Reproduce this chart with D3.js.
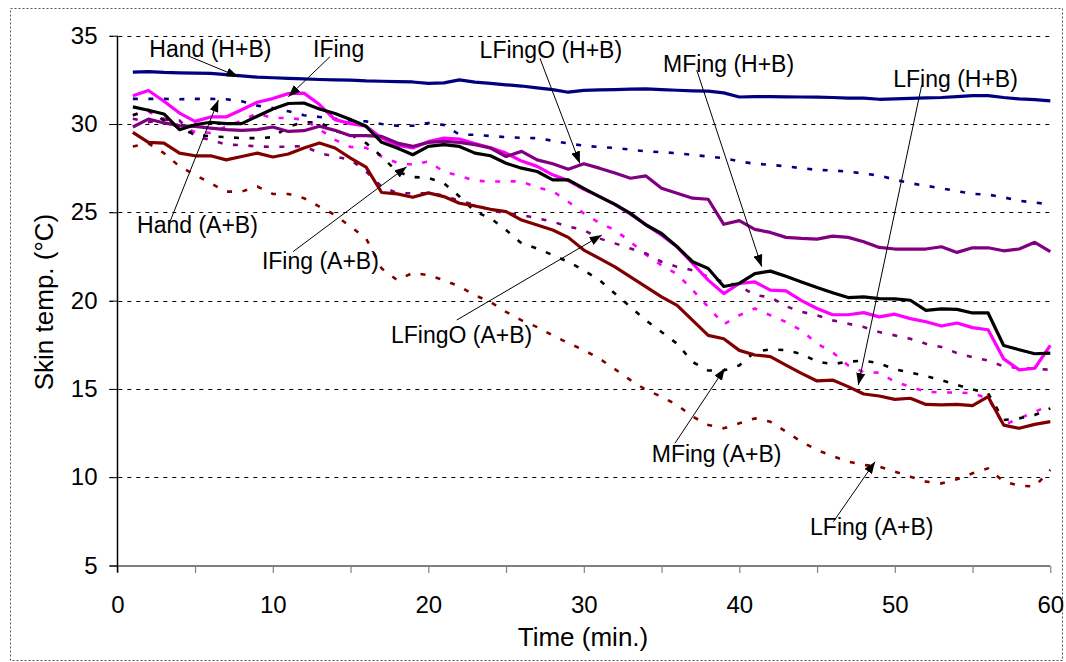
<!DOCTYPE html>
<html>
<head>
<meta charset="utf-8">
<script src="https://cdn.jsdelivr.net/npm/d3@7"></script>
<style>
  html, body { margin: 0; padding: 0; background: #fff; }
  svg { display: block; font-family: "Liberation Sans", Arial, sans-serif; }
</style>
</head>
<body>
<svg id="chart" width="1066" height="662"></svg>
<script>
// minutes 1..60, skin temperature (°C) per site and condition
const MINUTES = [1,2,3,4,5,6,7,8,9,10,11,12,13,14,15,16,17,18,19,20,
  21,22,23,24,25,26,27,28,29,30,31,32,33,34,35,36,37,38,39,40,
  41,42,43,44,45,46,47,48,49,50,51,52,53,54,55,56,57,58,59,60];

const HAND_HB = [32.94,32.97,32.92,32.9,32.88,32.87,32.8,32.72,32.65,32.62,32.58,32.55,32.52,32.5,32.48,32.44,32.42,32.4,32.38,32.3,
  32.33,32.5,32.37,32.3,32.22,32.15,32.05,31.95,31.8,31.9,31.93,31.95,31.97,31.99,31.95,31.91,31.88,31.86,31.76,31.53,
  31.55,31.55,31.54,31.53,31.52,31.5,31.47,31.47,31.4,31.42,31.45,31.48,31.5,31.55,31.61,31.61,31.5,31.42,31.38,31.31];
const HAND_AB = [31.42,31.42,31.42,31.4,31.42,31.42,31.4,31.29,31.04,30.9,30.72,30.5,30.4,30.3,30.2,30.15,30.0,29.9,29.9,30.06,
  29.95,29.4,29.39,29.32,29.26,29.22,29.2,29.05,28.9,28.77,28.7,28.64,28.55,28.45,28.4,28.35,28.25,28.16,28.07,27.88,
  27.75,27.69,27.6,27.5,27.4,27.37,27.3,27.2,27.08,26.85,26.65,26.5,26.36,26.2,26.04,26.0,25.85,25.65,25.55,25.45];
const IFING_HB = [31.6,31.9,31.29,30.62,30.15,30.4,30.4,30.81,31.23,31.44,31.72,31.75,31.1,30.25,30.02,29.87,29.2,28.8,28.64,29.0,
  29.2,29.15,28.9,28.65,28.35,27.9,27.6,27.12,26.8,26.3,25.9,25.45,24.9,24.3,23.7,23.05,22.1,21.16,20.4,20.97,
  21.06,20.59,20.55,20.0,19.55,19.2,19.2,19.32,19.08,19.23,18.98,18.8,18.56,18.73,18.47,18.35,16.7,16.08,16.17,17.46];
const IFING_AB = [30.5,30.7,30.3,29.9,29.55,29.5,29.85,30.2,30.6,30.34,30.34,30.25,29.7,29.1,28.7,28.65,28.16,27.8,27.7,27.88,
  27.3,27.06,26.8,26.74,26.75,26.75,26.4,26.2,25.6,24.94,24.4,24.0,23.33,22.6,22.0,21.5,20.6,19.64,18.66,19.17,
  19.55,19.17,18.79,18.31,17.56,17.08,16.33,15.95,15.92,15.4,15.13,14.84,14.8,14.8,14.75,14.46,12.95,13.33,13.7,14.08];
const LFINGO_HB = [29.83,30.28,30.06,29.9,29.87,29.77,29.68,29.64,29.68,29.83,29.58,29.62,29.87,29.64,29.34,29.34,29.3,28.92,28.73,28.96,
  29.02,28.96,28.83,28.64,28.16,28.45,27.97,27.75,27.44,27.75,27.5,27.22,26.93,27.06,26.36,26.08,25.8,25.74,24.32,24.53,
  24.03,23.86,23.58,23.52,23.48,23.65,23.58,23.33,23.01,22.92,22.92,22.92,23.05,22.73,22.99,22.99,22.82,22.92,23.3,22.77];
const LFINGO_AB = [30.3,30.1,30.25,30.2,29.3,29.1,28.83,28.8,28.73,28.7,28.72,28.75,28.35,28.16,27.97,27.3,26.46,26.08,26.08,26.08,
  25.95,25.65,25.42,25.13,24.94,24.85,24.66,24.47,24.19,24.0,23.52,23.24,22.95,22.67,22.2,21.91,21.72,21.35,21.05,20.85,
  20.3,20.2,19.68,19.36,19.17,18.88,18.69,18.5,18.22,18.03,17.84,17.56,17.37,17.03,16.8,16.61,16.27,16.19,16.14,16.08];
const MFING_HB = [30.97,30.78,30.57,29.68,29.96,30.1,30.02,30.02,30.44,30.85,31.16,31.19,30.85,30.59,30.25,29.87,28.96,28.64,28.26,28.73,
  28.83,28.73,28.35,28.2,27.78,27.5,27.31,26.84,26.84,26.36,25.89,25.45,24.94,24.28,23.8,23.05,22.2,21.82,20.8,20.97,
  21.53,21.67,21.38,21.06,20.74,20.45,20.17,20.21,20.11,20.1,20.02,19.45,19.53,19.5,19.3,19.3,17.46,17.22,16.99,17.03];
const MFING_AB = [30.5,30.8,30.2,29.77,29.4,29.3,29.26,29.2,29.2,29.25,29.85,30.1,30.1,29.6,29.4,28.92,28.16,27.3,27.0,26.95,
  26.65,25.9,25.04,24.66,24.0,23.24,22.95,22.58,22.2,21.72,21.16,20.4,19.64,18.88,18.22,17.56,16.52,16.04,16.04,16.33,
  17.1,17.24,17.2,16.98,16.54,16.4,16.54,16.6,16.45,16.11,15.92,15.73,15.5,15.22,14.97,14.75,13.24,13.33,13.52,13.9];
const LFING_HB = [29.53,28.96,28.92,28.35,28.2,28.2,27.97,28.16,28.35,28.13,28.3,28.64,28.92,28.64,28.07,27.56,26.12,26.04,25.85,26.1,
  25.89,25.51,25.36,25.17,25.04,24.56,24.28,24.0,23.58,22.86,22.39,21.91,21.34,20.78,20.21,19.73,18.88,18.03,17.84,17.18,
  16.92,16.83,16.35,15.88,15.45,15.5,15.13,14.71,14.6,14.41,14.47,14.12,14.09,14.12,14.05,14.56,12.95,12.77,12.99,13.15];
const LFING_AB = [28.73,28.9,28.35,27.6,27.12,26.65,26.17,26.17,26.46,26.04,26.04,25.8,25.32,24.85,24.19,23.52,21.82,21.16,21.57,21.44,
  21.16,20.8,20.3,19.92,19.36,18.88,18.5,18.03,17.6,17.2,16.72,16.12,15.5,14.94,14.56,14.09,13.43,12.96,12.77,13.05,
  13.33,13.14,12.58,12.01,11.54,11.2,10.88,10.69,10.6,10.31,10.03,9.75,9.65,9.88,10.22,10.5,9.75,9.52,9.47,10.41];

const X_TICKS = [0,5,10,15,20,25,30,35,40,45,50,55,60];
const Y_TICKS = [5,10,15,20,25,30,35];
const X_TITLE = 'Time (min.)', Y_TITLE = 'Skin temp. (°C)';

// series, in drawing order
const SERIES = [
  { values: HAND_AB,   color: '#000080', dashed: true },
  { values: IFING_AB,  color: '#ff00ff', dashed: true },
  { values: LFINGO_AB, color: '#800080', dashed: true },
  { values: MFING_AB,  color: '#000000', dashed: true },
  { values: LFING_AB,  color: '#800000', dashed: true },
  { values: HAND_HB,   color: '#000080', dashed: false },
  { values: IFING_HB,  color: '#ff00ff', dashed: false },
  { values: LFINGO_HB, color: '#800080', dashed: false },
  { values: LFING_HB,  color: '#800000', dashed: false },
  { values: MFING_HB,  color: '#000000', dashed: false },
];

// callouts: text anchor, leader start and arrow tip, all in (minute, °C)
const CALLOUTS = [
  { text: 'Hand (H+B)',   at: [2.06, 33.81],  from: [4.68, 33.81],  to: [7.78, 32.68] },
  { text: 'IFing',        at: [12.59, 33.81], from: [13.68, 33.81], to: [11.0, 31.55] },
  { text: 'Hand (A+B)',   at: [1.27, 23.85],  from: [3.39, 24.47],  to: [6.5, 31.36] },
  { text: 'IFing (A+B)',  at: [9.3, 21.79],   from: [11.3, 22.77],  to: [18.61, 27.58] },
  { text: 'LFingO (H+B)', at: [23.3, 33.75],  from: [27.18, 33.72], to: [29.75, 27.77] },
  { text: 'MFing (H+B)',  at: [35.1, 32.96],  from: [37.26, 33.06], to: [41.44, 21.92] },
  { text: 'LFing (H+B)',  at: [49.9, 32.11],  from: [51.73, 32.2],  to: [47.65, 15.22] },
  { text: 'LFingO (A+B)', at: [17.6, 17.6],   from: [21.83, 18.9],  to: [31.15, 23.71] },
  { text: 'MFing (A+B)',  at: [34.37, 10.88], from: [35.86, 11.92], to: [39.07, 16.17] },
  { text: 'LFing (A+B)',  at: [44.55, 6.73],  from: [46.05, 7.48],  to: [48.73, 10.88] },
];

const M = { left: 117.3, right: 1050.3, top: 35.7, bottom: 565.5 };
const FONT = '"Liberation Sans", Arial, sans-serif';

const svg = d3.select('#chart');
const x = d3.scaleLinear().domain([0, 60]).range([M.left, M.right]);
const y = d3.scaleLinear().domain([5, 35]).range([M.bottom, M.top]);

// outer chart border
svg.append('rect').attr('x', 10.5).attr('y', 8.5).attr('width', 1052).attr('height', 652)
  .attr('fill', 'none').attr('stroke', '#555').attr('stroke-width', 1).attr('stroke-dasharray', '2,2');

// arrowhead
svg.append('defs').append('marker').attr('id', 'arr')
  .attr('viewBox', '0 0 12 9').attr('refX', 12).attr('refY', 4.5)
  .attr('markerUnits', 'userSpaceOnUse').attr('markerWidth', 12).attr('markerHeight', 9)
  .attr('orient', 'auto')
  .append('path').attr('d', 'M0,0 L12,4.5 L0,9 Z').attr('fill', '#000');

// gridlines
svg.append('g').selectAll('line').data(Y_TICKS.filter(d => d > 5)).join('line')
  .attr('x1', M.left - 8).attr('x2', M.right)
  .attr('y1', d => Math.round(y(d)) + 0.5).attr('y2', d => Math.round(y(d)) + 0.5)
  .attr('stroke', '#000').attr('stroke-width', 1).attr('stroke-dasharray', '4,5');

// x axis: grey, with small ticks
const gx = svg.append('g').attr('transform', `translate(0,${Math.round(M.bottom)})`)
  .call(d3.axisBottom(x).tickValues(X_TICKS).tickSize(7).tickSizeOuter(0).tickPadding(23)
    .tickFormat(d => d % 10 === 0 ? d : ''));
gx.select('.domain').attr('stroke', '#808080').attr('stroke-width', 2)
  .attr('d', `M${M.left - 8},0H${M.right}`);
gx.selectAll('.tick line').attr('stroke', '#808080').attr('stroke-width', 1.2);

// y axis: black, runs down through the x tick length
const gy = svg.append('g').attr('transform', `translate(${Math.round(M.left) + 0.5},0)`)
  .call(d3.axisLeft(y).tickValues(Y_TICKS).tickSize(8).tickSizeOuter(0).tickPadding(12));
gy.select('.domain').attr('stroke', '#000').attr('stroke-width', 1.5)
  .attr('d', `M0,${M.top}V${M.bottom + 7}`);
gy.selectAll('.tick line').attr('stroke', '#000');

[gx, gy].forEach(g => g.selectAll('.tick text')
  .attr('fill', '#000').attr('font-family', FONT).attr('font-size', 24));

svg.append('text').attr('x', 583).attr('y', 646).attr('text-anchor', 'middle')
  .attr('font-size', 26).attr('fill', '#000').text(X_TITLE);
svg.append('text').attr('transform', 'translate(53,302) rotate(-90)').attr('text-anchor', 'middle')
  .attr('font-size', 26).attr('fill', '#000').text(Y_TITLE);

// series lines
const line = d3.line().x((d, i) => x(MINUTES[i])).y(d => y(d));
svg.append('g').selectAll('path').data(SERIES).join('path')
  .attr('d', s => line(s.values))
  .attr('fill', 'none')
  .attr('stroke', s => s.color)
  .attr('stroke-width', s => s.dashed ? 2.6 : 3.2)
  .attr('stroke-linejoin', 'round')
  .attr('stroke-dasharray', s => s.dashed ? '5,10.5' : null);

// callouts
const gc = svg.append('g');
gc.selectAll('line').data(CALLOUTS).join('line')
  .attr('x1', d => x(d.from[0])).attr('y1', d => y(d.from[1]))
  .attr('x2', d => x(d.to[0])).attr('y2', d => y(d.to[1]))
  .attr('stroke', '#000').attr('stroke-width', 1).attr('marker-end', 'url(#arr)');
gc.selectAll('text').data(CALLOUTS).join('text')
  .attr('x', d => x(d.at[0])).attr('y', d => y(d.at[1]))
  .attr('font-size', 23).attr('fill', '#000').text(d => d.text);
</script>
</body>
</html>
